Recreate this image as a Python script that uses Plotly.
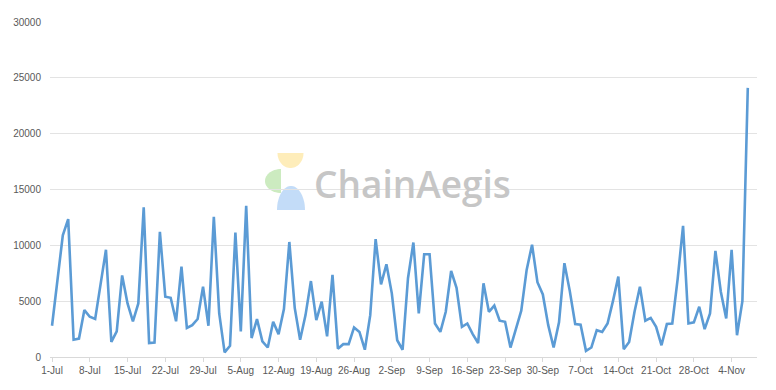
import numpy as np
import pandas as pd
import plotly.graph_objects as go

# ---- data ----
dates = pd.date_range("2024-07-01", "2024-11-08", freq="D")
values = [
    2800, 7000, 10900, 12350, 1550, 1650, 4200, 3600, 3400, 6500,
    9600, 1350, 2300, 7300, 4800, 3200, 4800, 13400, 1250, 1300,
    11200, 5400, 5300, 3200, 8100, 2600, 2850, 3400, 6300, 2800,
    12550, 3900, 420, 1000, 11150, 2300, 13550, 1700, 3400, 1400,
    850, 3150, 2050, 4300, 10300, 4400, 1550, 3750, 6800, 3300,
    4950, 1850, 7350, 750, 1150, 1150, 2650, 2250, 650, 3750,
    10550, 6500, 8300, 5700, 1500, 650, 7050, 10250, 3900, 9200,
    9200, 3000, 2250, 4050, 7700, 6200, 2700, 3000, 2050, 1250,
    6600, 4050, 4600, 3250, 3150, 850, 2500, 4150, 7800, 10050,
    6700, 5600, 2850, 850, 3100, 8400, 5900, 2950, 2900, 550,
    850, 2400, 2250, 3000, 5000, 7200, 700, 1350, 4050, 6300,
    3250, 3500, 2700, 1050, 2950, 3000, 7000, 11750, 3000, 3100,
    4500, 2500, 3900, 9500, 5850, 3450, 9600, 1950, 5000, 24100,
]
y_ticks = [0, 5000, 10000, 15000, 20000, 25000, 30000]
y_tick_labels = [str(v) for v in y_ticks]
x_tick_dates = pd.date_range("2024-07-01", "2024-11-04", freq="7D")
x_tick_labels = [f"{d.day}-{d.strftime('%b')}" for d in x_tick_dates]

# ---- geometry helpers for the watermark ----
L, R, T, B = 50, 757, 22, 357
def px(x, y):
    return (x - L) / (R - L), (B - y) / (B - T)

def half_ellipse(cx, cy, rx, ry, a0, a1, n=30):
    pts = []
    for a in np.linspace(a0, a1, n):
        pts.append(px(cx + rx * np.cos(a), cy - ry * np.sin(a)))
    d = "M " + " L ".join(f"{p[0]:.5f},{p[1]:.5f}" for p in pts) + " Z"
    return d

fig = go.Figure()
fig.add_trace(go.Scatter(
    x=dates, y=values, mode="lines",
    line=dict(color="#5b9bd5", width=2.6),
    hoverinfo="x+y", showlegend=False,
))

shapes = [
    dict(type="path", xref="paper", yref="paper", layer="below",
         path=half_ellipse(290.5, 153, 13, 15, np.pi, 2 * np.pi),
         fillcolor="rgba(253,222,130,0.55)", line=dict(width=0)),
    dict(type="path", xref="paper", yref="paper", layer="below",
         path=half_ellipse(281, 181, 16, 12, np.pi / 2, 3 * np.pi / 2),
         fillcolor="rgba(170,222,150,0.6)", line=dict(width=0)),
    dict(type="path", xref="paper", yref="paper", layer="below",
         path=half_ellipse(291, 210, 14, 24, 0, np.pi),
         fillcolor="rgba(175,208,245,0.75)", line=dict(width=0)),
]

fig.update_layout(
    width=776, height=390,
    margin=dict(l=L, r=776 - R, t=T, b=390 - B),
    paper_bgcolor="white", plot_bgcolor="white",
    font=dict(family="Liberation Sans, Arial, sans-serif", size=10, color="#595959"),
    shapes=shapes,
    annotations=[dict(
        text="ChainAegis", xref="paper", yref="paper",
        x=px(412, 183)[0], y=px(412, 183)[1], xanchor="center", yanchor="middle",
        showarrow=False,
        font=dict(family="Open Sans, sans-serif", size=37, color="#c6c6c6", weight=600),
    )],
    xaxis=dict(
        range=[pd.Timestamp("2024-07-01") - pd.Timedelta(hours=9),
               pd.Timestamp("2024-11-08") + pd.Timedelta(hours=17)],
        tickvals=x_tick_dates, ticktext=x_tick_labels,
        showgrid=False, showline=True, linecolor="#d9d9d9", linewidth=1,
        ticks="outside", ticklen=4, tickcolor="#d9d9d9",
        tickfont=dict(size=10, color="#595959"), zeroline=False,
    ),
    yaxis=dict(
        range=[0, 30000], tickvals=y_ticks, ticktext=y_tick_labels,
        showgrid=True, gridcolor="#e3e3e3", gridwidth=1,
        showline=False, zeroline=False, ticks="",
        tickfont=dict(size=10, color="#595959"), ticklabelstandoff=8,
    ),
)

fig.write_html("out.html")
